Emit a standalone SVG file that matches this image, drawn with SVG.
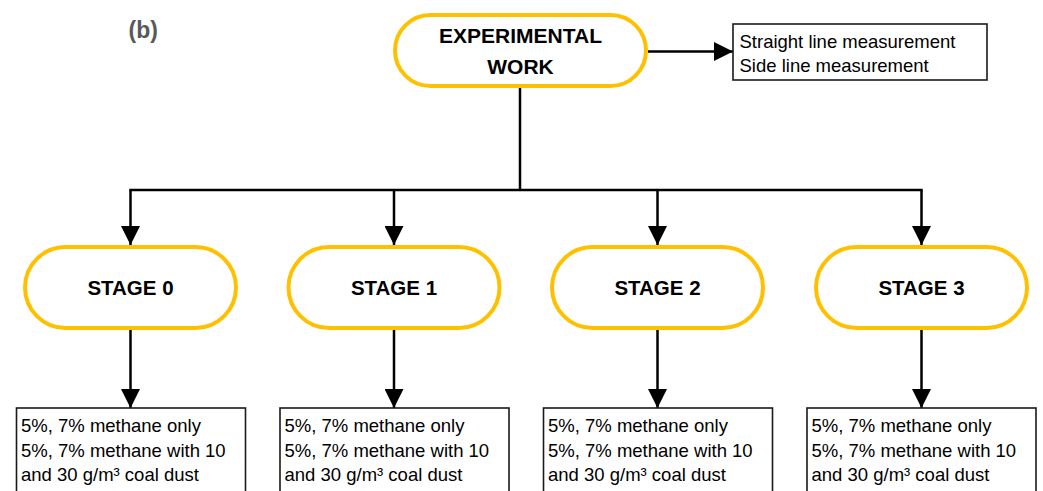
<svg xmlns="http://www.w3.org/2000/svg" width="1043" height="491" viewBox="0 0 1043 491">
  <style>
    .pill { fill: #ffffff; stroke: #FFC000; stroke-width: 4; }
    .box { fill: #ffffff; stroke: #1a1a1a; stroke-width: 1.6; }
    .title { font-family: "Liberation Sans", Arial, sans-serif; font-weight: bold; font-size: 21px; fill: #000; text-anchor: middle; }
    .stage { font-family: "Liberation Sans", Arial, sans-serif; font-weight: bold; font-size: 20.5px; fill: #000; text-anchor: middle; }
    .body { font-family: "Liberation Sans", Arial, sans-serif; font-size: 18.5px; fill: #000; }
    .conn { fill: none; stroke: #000; stroke-width: 2.5; }
  </style>
  <defs>
    <marker id="arrow" markerUnits="userSpaceOnUse" markerWidth="19" markerHeight="19" viewBox="0 0 19 19" refX="19" refY="9.5" orient="auto">
      <path d="M0,0 L19,9.5 L0,19 Z" fill="#000"/>
    </marker>
  </defs>
  <rect width="1043" height="491" fill="#ffffff"/>

  <text x="128.5" y="38" font-family="Liberation Sans, Arial, sans-serif" font-weight="bold" font-size="23" fill="#595959">(b)</text>

  <g id="connectors">
    <line class="conn" x1="648" y1="51.5" x2="733" y2="51.5" marker-end="url(#arrow)"/>
    <polyline class="conn" points="520,88 520,190"/>
    <line class="conn" x1="129.3" y1="190" x2="922.7" y2="190"/>
    <line class="conn" x1="130.5" y1="190" x2="130.5" y2="245" marker-end="url(#arrow)"/>
    <line class="conn" x1="394" y1="190" x2="394" y2="245" marker-end="url(#arrow)"/>
    <line class="conn" x1="657.5" y1="190" x2="657.5" y2="245" marker-end="url(#arrow)"/>
    <line class="conn" x1="921.5" y1="190" x2="921.5" y2="245" marker-end="url(#arrow)"/>
    <line class="conn" x1="130.5" y1="330" x2="130.5" y2="408" marker-end="url(#arrow)"/>
    <line class="conn" x1="394" y1="330" x2="394" y2="408" marker-end="url(#arrow)"/>
    <line class="conn" x1="657.5" y1="330" x2="657.5" y2="408" marker-end="url(#arrow)"/>
    <line class="conn" x1="921.5" y1="330" x2="921.5" y2="408" marker-end="url(#arrow)"/>
  </g>

  <g id="experimental-work">
    <rect class="pill" x="395" y="15" width="251" height="71" rx="35.5"/>
    <text class="title" x="520.5" y="43">EXPERIMENTAL</text>
    <text class="title" x="520.5" y="74">WORK</text>
  </g>

  <g id="measurement">
    <rect class="box" x="733" y="24" width="254" height="56"/>
    <text class="body" x="739.5" y="47.5">Straight line measurement</text>
    <text class="body" x="739.5" y="71.5">Side line measurement</text>
  </g>

  <g id="stage0">
    <rect class="pill" x="25" y="247" width="211" height="81" rx="40.5"/>
    <text class="stage" x="130.5" y="295">STAGE 0</text>
  </g>
  <g id="stage1">
    <rect class="pill" x="288.5" y="247" width="211" height="81" rx="40.5"/>
    <text class="stage" x="394" y="295">STAGE 1</text>
  </g>
  <g id="stage2">
    <rect class="pill" x="552" y="247" width="211" height="81" rx="40.5"/>
    <text class="stage" x="657.5" y="295">STAGE 2</text>
  </g>
  <g id="stage3">
    <rect class="pill" x="816" y="247" width="211" height="81" rx="40.5"/>
    <text class="stage" x="921.5" y="295">STAGE 3</text>
  </g>

  <g id="conditions0">
    <rect class="box" x="16.5" y="408" width="229" height="90"/>
    <text class="body" x="21" y="432">5%, 7% methane only</text>
    <text class="body" x="21" y="456.5">5%, 7% methane with 10</text>
    <text class="body" x="21" y="481">and 30 g/m³ coal dust</text>
  </g>
  <g id="conditions1">
    <rect class="box" x="280" y="408" width="229" height="90"/>
    <text class="body" x="284.5" y="432">5%, 7% methane only</text>
    <text class="body" x="284.5" y="456.5">5%, 7% methane with 10</text>
    <text class="body" x="284.5" y="481">and 30 g/m³ coal dust</text>
  </g>
  <g id="conditions2">
    <rect class="box" x="543.5" y="408" width="229" height="90"/>
    <text class="body" x="548" y="432">5%, 7% methane only</text>
    <text class="body" x="548" y="456.5">5%, 7% methane with 10</text>
    <text class="body" x="548" y="481">and 30 g/m³ coal dust</text>
  </g>
  <g id="conditions3">
    <rect class="box" x="807" y="408" width="229" height="90"/>
    <text class="body" x="811.5" y="432">5%, 7% methane only</text>
    <text class="body" x="811.5" y="456.5">5%, 7% methane with 10</text>
    <text class="body" x="811.5" y="481">and 30 g/m³ coal dust</text>
  </g>
</svg>
